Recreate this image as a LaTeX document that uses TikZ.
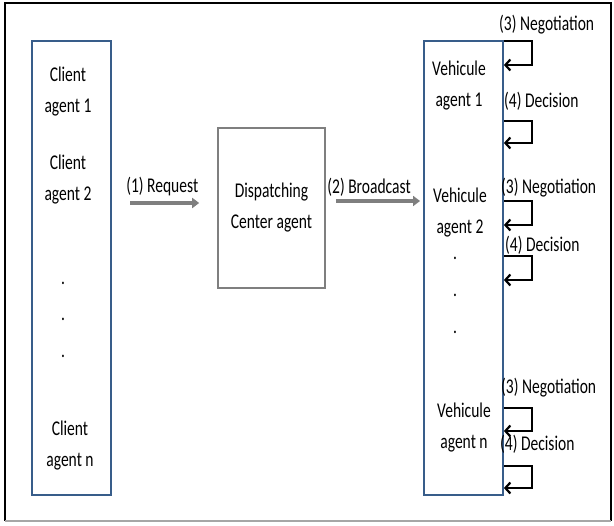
\documentclass[tikz,border=0pt]{standalone}
\usepackage{fontspec}
\setmainfont{Carlito}[FakeStretch=0.74]
\usetikzlibrary{arrows.meta}

\definecolor{agentblue}{HTML}{385D8A}
\definecolor{msggray}{HTML}{7F7F7F}

\tikzset{
  agentbox/.style = {draw = agentblue, line width = 1.8pt, inner sep = 0},
  msgarrow/.style = {msggray, line width = 3.5pt,
    -{Triangle[length = 7pt, width = 10pt]}},
  loopline/.style = {black, line width = 2.2pt,
    -{Straight Barb[length = 5pt, width = 11pt]}},
}

\begin{document}
\begin{tikzpicture}[
    x = 1pt, y = -1pt,
    font = \fontsize{21}{31}\selectfont,
  ]
  \useasboundingbox (0,0) rectangle (614,526);

  % frame
  \draw[black, line width = 2pt] (5,521) -- (5,3) -- (611,3) -- (611,521);
  \draw[gray!70, line width = 1.5pt] (5,521) -- (611,521);

  % the three agents
  \node[agentbox, minimum width = 79pt, minimum height = 454pt]
    (clients) at (71.5,268) {};
  \node[draw = msggray, line width = 1.6pt, inner sep = 0,
    minimum width = 107pt, minimum height = 160pt,
    align = center] (center) at (271.5,208)
    {Dispatching\\Center agent};
  \node[agentbox, minimum width = 79pt, minimum height = 454pt]
    (vehicles) at (463.5,268) {};

  \foreach \y/\n/\x in {
    92/1/68,
    180/2/68,
    446/n/70
  }{
    \node[align = center] (client-\n) at (\x,\y) {Client\\agent \n};
  }
  \foreach \y/\n/\x in {
    86/1/459,
    213/2/460,
    428/n/464
  }{
    \node[align = center] (vehicle-\n) at (\x,\y) {Vehicule\\agent \n};
  }
  \foreach \y [count = \i] in {283, 319, 356} {
    \node (cdot-\i) at (63,\y) {.};
  }
  \foreach \y [count = \i] in {258, 295, 332} {
    \node (vdot-\i) at (455,\y) {.};
  }

  % messages
  \coordinate (req-start) at (130,203);
  \draw[msgarrow, shorten > = 18pt] (req-start) -- (req-start -| center.west)
    node[pos = 0.37, above = 5pt, inner sep = 0, text = black] (req)
    {(1) Request};
  \coordinate (bc-start) at (336,201);
  \draw[msgarrow, shorten > = 3pt] (bc-start) -- (bc-start -| vehicles.west)
    node[pos = 0.38, above = 3pt, inner sep = 0, text = black] (bc)
    {(2) Broadcast};

  % negotiation and decision loops
  \foreach \t/\b in {41/65, 121/143, 201/225, 256/280, 408/431, 466/488} {
    \draw[loopline] (vehicles.east |- 0,\t) -- (532,\t) -- (532,\b)
      -- (vehicles.east |- 0,\b);
  }
  \foreach \y/\x [count = \i] in {25/499, 188/501, 388/501} {
    \node[anchor = west, inner sep = 0] (nego-\i) at (\x,\y)
      {(3) Negotiation};
  }
  \foreach \y/\x [count = \i] in {101/504, 245/505, 444/500} {
    \node[anchor = west, inner sep = 0] (deci-\i) at (\x,\y)
      {(4) Decision};
  }
\end{tikzpicture}
\end{document}
